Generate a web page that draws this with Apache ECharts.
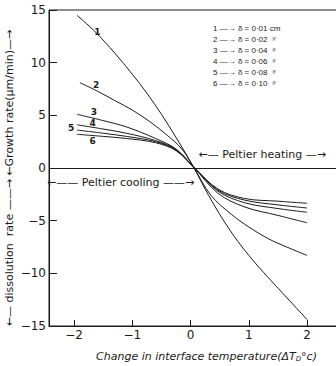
<!DOCTYPE html>
<html lang="en">
<head>
    <meta charset="UTF-8">
    <title>Growth rate vs interface temperature</title>
    <script src="https://cdn.jsdelivr.net/npm/echarts@6.0.0/dist/echarts.min.js"></script>
    <style>
        html, body { margin: 0; padding: 0; background: #fff; }
        #main { width: 336px; height: 366px; }
    </style>
</head>
<body>
<div id="main"></div>

<script type="text/javascript">
    // values: [ΔT_D, rate]
    var curve1 = [[-1.95, 14.5], [-1.65, 13.0], [-1.3, 10.9], [-1.0, 8.9], [-0.75, 7.1], [-0.5, 5.1], [-0.25, 2.9], [0.05, 0.1],
        [0.25, -2.0], [0.5, -4.4], [0.75, -6.5], [1.0, -8.3], [1.25, -9.9], [1.5, -11.4], [1.75, -12.9], [2.0, -14.4]];
    var curve2 = [[-1.9, 8.1], [-1.6, 7.3], [-1.3, 6.4], [-1.0, 5.5], [-0.7, 4.4], [-0.4, 3.1], [-0.15, 1.8], [0.05, 0.1],
        [0.35, -2.6], [0.7, -4.4], [1.0, -5.6], [1.33, -6.7], [1.65, -7.5], [2.0, -8.3]];
    var curve3 = [[-1.95, 5.1], [-1.5, 4.5], [-1.1, 3.9], [-0.6, 2.8], [-0.25, 1.8], [0.05, 0.1],
        [0.47, -2.4], [0.93, -3.7], [1.5, -4.5], [2.0, -5.2]];
    var curve4 = [[-1.95, 4.1], [-1.5, 3.7], [-1.1, 3.3], [-0.6, 2.6], [-0.25, 1.75], [0.05, 0.1],
        [0.47, -2.2], [0.93, -3.3], [1.5, -3.85], [2.0, -4.2]];
    var curve5 = [[-1.95, 3.6], [-1.5, 3.3], [-1.1, 3.0], [-0.6, 2.5], [-0.25, 1.7], [0.05, 0.1],
        [0.47, -2.1], [0.93, -3.05], [1.5, -3.5], [2.0, -3.8]];
    var curve6 = [[-1.95, 3.2], [-1.5, 3.0], [-1.1, 2.8], [-0.6, 2.4], [-0.25, 1.65], [0.05, 0.1],
        [0.47, -2.0], [0.93, -2.9], [1.5, -3.15], [2.0, -3.35]];

    var curves = [curve1, curve2, curve3, curve4, curve5, curve6];
    var curveNames = ['1', '2', '3', '4', '5', '6'];
    // where the number of each curve is written
    var curveLabelAt = [[-1.6, 12.9], [-1.62, 7.9], [-1.66, 5.3], [-1.68, 4.3], [-2.05, 3.8], [-1.68, 2.6]];

    var xTicks = [-2, -1, 0, 1, 2];
    var keyLines = ['1 —→ δ = 0·01 cm', '2 —→ δ = 0·02 〃', '3 —→ δ = 0·04 〃',
        '4 —→ δ = 0·06 〃', '5 —→ δ = 0·08 〃', '6 —→ δ = 0·10 〃'];

    var ink = '#1a1a1a';
    var font = 'DejaVu Sans';

    var myChart = echarts.init(document.getElementById('main'), null, {renderer: 'svg'});

    var series = curves.map(function (c, i) {
        return {
            name: curveNames[i],
            type: 'line',
            data: c,
            smooth: 0.35,
            showSymbol: false,
            silent: true,
            lineStyle: {color: ink, width: 1},
            markPoint: {
                symbol: 'circle',
                symbolSize: 0,
                silent: true,
                label: {
                    show: true,
                    formatter: curveNames[i],
                    color: ink,
                    fontFamily: font,
                    fontSize: 9,
                    fontWeight: 'bold'
                },
                data: [{coord: curveLabelAt[i]}]
            }
        };
    });

    // zero line and the two Peltier notes
    series.push({
        type: 'line',
        data: [],
        silent: true,
        markLine: {
            symbol: 'none',
            silent: true,
            label: {show: false},
            lineStyle: {color: ink, width: 1, type: 'solid'},
            data: [{yAxis: 0}]
        },
        markPoint: {
            symbol: 'circle',
            symbolSize: 0,
            silent: true,
            label: {show: true, color: ink, fontFamily: font, fontSize: 11},
            data: [
                {coord: [1.23, 1.3], label: {formatter: '←— Peltier heating —→'}},
                {coord: [-1.2, -1.4], label: {formatter: '←—— Peltier cooling ——→'}}
            ]
        }
    });

    var option = {
        backgroundColor: '#ffffff',
        animation: false,
        textStyle: {fontFamily: font, color: ink},
        grid: {
            left: 49, top: 10, right: -2, bottom: 40,
            outerBoundsMode: 'none',
            show: true, borderColor: ink, borderWidth: 1
        },
        xAxis: {
            type: 'value',
            min: -2.43,
            max: 2.53,
            name: 'Change in interface temperature(ΔT{s|D}°c)',
            nameLocation: 'middle',
            nameGap: 25,
            nameMoveOverlap: false,
            nameTextStyle: {
                color: ink, fontSize: 11, fontStyle: 'italic', fontFamily: font,
                padding: [0, 0, 0, 26],
                rich: {s: {fontSize: 7, fontStyle: 'italic', verticalAlign: 'bottom'}}
            },
            axisLine: {onZero: false, lineStyle: {color: ink, width: 1}},
            axisTick: {inside: true, length: 6, customValues: xTicks, lineStyle: {color: ink}},
            axisLabel: {
                customValues: xTicks,
                color: ink, fontSize: 12, margin: 3,
                formatter: function (v) { return String(v).replace('-', '−'); }
            },
            splitLine: {show: false}
        },
        yAxis: {
            type: 'value',
            min: -15,
            max: 15,
            interval: 5,
            name: '←— dissolution  rate ——→ ←Growth rate(μm/min)—→',
            nameLocation: 'middle',
            nameGap: 34,
            nameMoveOverlap: false,
            nameTextStyle: {color: ink, fontSize: 11, fontFamily: font, padding: [0, 20, 0, 0]},
            axisLine: {show: true, onZero: false, lineStyle: {color: ink, width: 1}},
            axisTick: {inside: true, length: 8, lineStyle: {color: ink}},
            axisLabel: {
                color: ink, fontSize: 12, margin: 3,
                formatter: function (v) { return String(v).replace('-', '−'); }
            },
            splitLine: {show: false}
        },
        graphic: [{
            type: 'group',
            left: 213,
            top: 24,
            children: keyLines.map(function (t, i) {
                return {
                    type: 'text',
                    top: i * 11,
                    style: {text: t, fill: ink, font: '8px "Liberation Sans"'}
                };
            })
        }],
        series: series
    };

    myChart.setOption(option);
</script>
</body>
</html>
